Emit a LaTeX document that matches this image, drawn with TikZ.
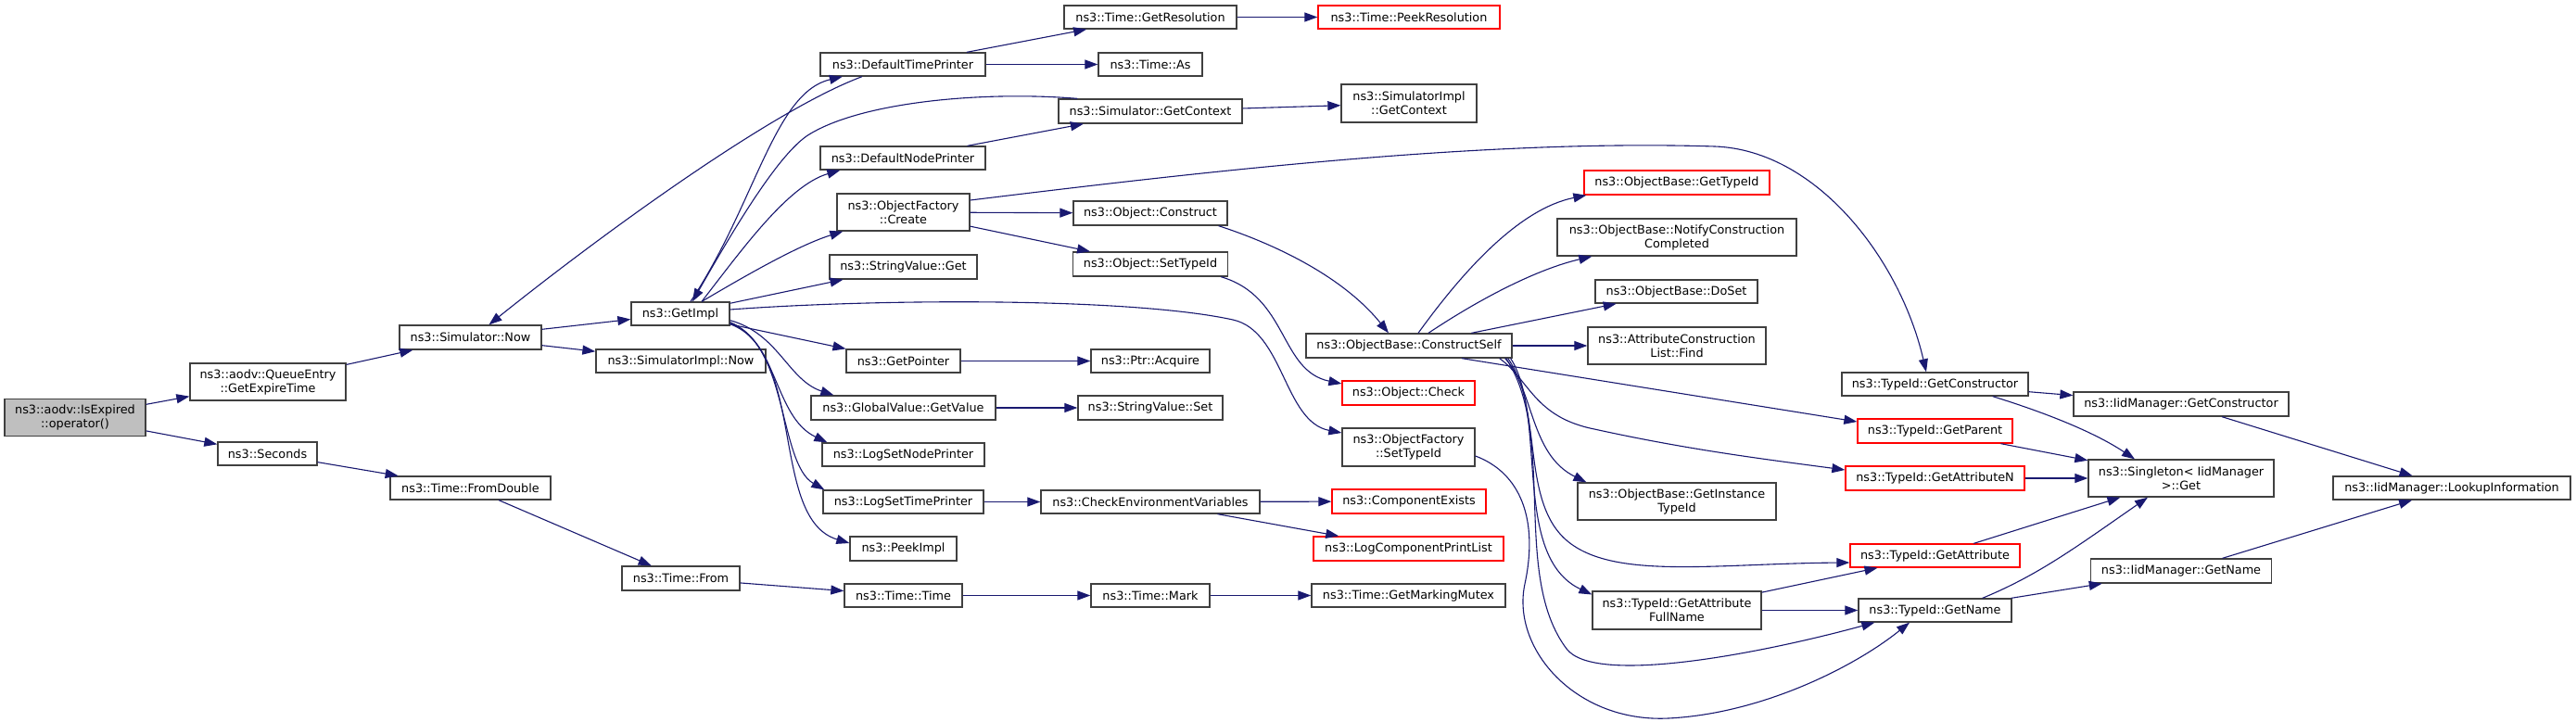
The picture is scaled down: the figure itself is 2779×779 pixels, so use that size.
\documentclass[tikz,border=0pt]{standalone}
\usepackage{fontspec}
\setmainfont{DejaVu Sans}
\usetikzlibrary{arrows.meta}
\definecolor{edgeblue}{HTML}{191970}
\definecolor{boxgray}{HTML}{404040}
\definecolor{boxred}{HTML}{FF0000}
\definecolor{rootfill}{HTML}{BFBFBF}
\begin{document}
\begin{tikzpicture}[x=1pt,y=-1pt,
  fn/.style={draw=boxgray, line width=1.3pt, fill=white, inner sep=0pt, align=center,
             font=\fontsize{12.8}{15}\selectfont},
  fnred/.style={fn, draw=boxred},
  call/.style={draw=edgeblue, line width=1.1pt, -{Triangle[length=14pt,width=10pt]}}]
\useasboundingbox (0,0) rectangle (2779,779);
\fill[white] (0,0) rectangle (2779,779);

% nodes
\node[fn, fill=rootfill, minimum width=152pt, minimum height=40pt] (isexp) at (81,450.5) {ns3::aodv::IsExpired\\::operator()};
\node[fn, minimum width=168pt, minimum height=40pt] (expire) at (289,412) {ns3::aodv::QueueEntry\\::GetExpireTime};
\node[fn, minimum width=107pt, minimum height=25pt] (seconds) at (288.5,489.5) {ns3::Seconds};
\node[fn, minimum width=173pt, minimum height=25pt] (fromdbl) at (507.5,526.5) {ns3::Time::FromDouble};
\node[fn, minimum width=127pt, minimum height=26pt] (tfrom) at (734.5,624) {ns3::Time::From};
\node[fn, minimum width=153pt, minimum height=26pt] (simnow) at (507.5,364) {ns3::Simulator::Now};
\node[fn, minimum width=106pt, minimum height=25pt] (getimpl) at (734,338.5) {ns3::GetImpl};
\node[fn, minimum width=183pt, minimum height=25pt] (simimplnow) at (734.5,389.5) {ns3::SimulatorImpl::Now};
\node[fn, minimum width=178pt, minimum height=25pt] (dtp) at (974,69.5) {ns3::DefaultTimePrinter};
\node[fn, minimum width=186pt, minimum height=25pt] (getres) at (1241,18.5) {ns3::Time::GetResolution};
\node[fn, minimum width=112pt, minimum height=25pt] (tas) at (1241,69.5) {ns3::Time::As};
\node[fn, minimum width=198pt, minimum height=26pt] (simctx) at (1241,120) {ns3::Simulator::GetContext};
\node[fn, minimum width=178pt, minimum height=25pt] (dnp) at (974,170.5) {ns3::DefaultNodePrinter};
\node[fn, minimum width=143pt, minimum height=40pt] (create) at (974.5,229) {ns3::ObjectFactory\\::Create};
\node[fn, minimum width=166pt, minimum height=26pt] (construct) at (1241,230) {ns3::Object::Construct};
\node[fn, minimum width=167pt, minimum height=26pt] (objsettid) at (1241,285) {ns3::Object::SetTypeId};
\node[fn, minimum width=159pt, minimum height=26pt] (strget) at (974.5,288) {ns3::StringValue::Get};
\node[fn, minimum width=123pt, minimum height=25pt] (getptr) at (974.5,389.5) {ns3::GetPointer};
\node[fn, minimum width=128pt, minimum height=25pt] (acquire) at (1241,389.5) {ns3::Ptr::Acquire};
\node[fn, minimum width=199pt, minimum height=26pt] (gvget) at (974.5,440) {ns3::GlobalValue::GetValue};
\node[fn, minimum width=156pt, minimum height=26pt] (strset) at (1241,440) {ns3::StringValue::Set};
\node[fn, minimum width=175pt, minimum height=25pt] (lsnp) at (974.5,490.5) {ns3::LogSetNodePrinter};
\node[fn, minimum width=173pt, minimum height=25pt] (lstp) at (974.5,541.5) {ns3::LogSetTimePrinter};
\node[fn, minimum width=236pt, minimum height=25pt] (checkenv) at (1241,541.5) {ns3::CheckEnvironmentVariables};
\node[fn, minimum width=115pt, minimum height=26pt] (peek) at (974.5,592) {ns3::PeekImpl};
\node[fn, minimum width=127pt, minimum height=25pt] (ttime) at (974.5,642.5) {ns3::Time::Time};
\node[fn, minimum width=128pt, minimum height=25pt] (mark) at (1241,642.5) {ns3::Time::Mark};
\node[fnred, minimum width=196pt, minimum height=25pt] (peekres) at (1520,18.5) {ns3::Time::PeekResolution};
\node[fn, minimum width=146pt, minimum height=41pt] (implctx) at (1520,111.5) {ns3::SimulatorImpl\\::GetContext};
\node[fnred, minimum width=200pt, minimum height=26pt] (gettid) at (1809,197) {ns3::ObjectBase::GetTypeId};
\node[fn, minimum width=258pt, minimum height=40pt] (notify) at (1809,256) {ns3::ObjectBase::NotifyConstruction\\Completed};
\node[fn, minimum width=175pt, minimum height=25pt] (doset) at (1808.5,314.5) {ns3::ObjectBase::DoSet};
\node[fn, minimum width=192pt, minimum height=40pt] (find) at (1809,373) {ns3::AttributeConstruction\\List::Find};
\node[fn, minimum width=222pt, minimum height=26pt] (cself) at (1520,373) {ns3::ObjectBase::ConstructSelf};
\node[fnred, minimum width=143pt, minimum height=26pt] (check) at (1519.5,424) {ns3::Object::Check};
\node[fn, minimum width=143pt, minimum height=41pt] (ofsettid) at (1519.5,482.5) {ns3::ObjectFactory\\::SetTypeId};
\node[fnred, minimum width=166pt, minimum height=26pt] (compex) at (1520,541) {ns3::ComponentExists};
\node[fnred, minimum width=205pt, minimum height=26pt] (lcpl) at (1519.5,592) {ns3::LogComponentPrintList};
\node[fn, minimum width=209pt, minimum height=25pt] (mutex) at (1519.5,642.5) {ns3::Time::GetMarkingMutex};
\node[fn, minimum width=214pt, minimum height=40pt] (insttid) at (1809,541) {ns3::ObjectBase::GetInstance\\TypeId};
\node[fn, minimum width=182pt, minimum height=41pt] (fullname) at (1809,658.5) {ns3::TypeId::GetAttribute\\FullName};
\node[fn, minimum width=201pt, minimum height=25pt] (tgetctor) at (2087.5,414.5) {ns3::TypeId::GetConstructor};
\node[fnred, minimum width=167pt, minimum height=26pt] (tparent) at (2087.5,465) {ns3::TypeId::GetParent};
\node[fnred, minimum width=193pt, minimum height=26pt] (tattrn) at (2087.5,516) {ns3::TypeId::GetAttributeN};
\node[fnred, minimum width=183pt, minimum height=25pt] (tattr) at (2087.5,599.5) {ns3::TypeId::GetAttribute};
\node[fn, minimum width=165pt, minimum height=25pt] (tname) at (2087.5,658.5) {ns3::TypeId::GetName};
\node[fn, minimum width=232pt, minimum height=26pt] (iidctor) at (2353,436) {ns3::IidManager::GetConstructor};
\node[fn, minimum width=200pt, minimum height=40pt] (singleton) at (2353,516) {ns3::Singleton< IidManager\\>::Get};
\node[fn, minimum width=256pt, minimum height=25pt] (lookup) at (2645,526.5) {ns3::IidManager::LookupInformation};
\node[fn, minimum width=195pt, minimum height=26pt] (iidname) at (2353,616) {ns3::IidManager::GetName};

% straight edges
\draw[call] (isexp) -- (expire);
\draw[call] (isexp) -- (seconds);
\draw[call] (expire) -- (simnow);
\draw[call] (seconds) -- (fromdbl);
\draw[call] (fromdbl) -- (tfrom);
\draw[call] (tfrom) -- (ttime);
\draw[call] (ttime) -- (mark);
\draw[call] (mark) -- (mutex);
\draw[call] (simnow) -- (getimpl);
\draw[call] (simnow) -- (simimplnow);
\draw[call] (dtp) -- (getres);
\draw[call] (dtp) -- (tas);
\draw[call] (getres) -- (peekres);
\draw[call] (simctx) -- (implctx);
\draw[call] (dnp) -- (simctx);
\draw[call] (create) -- (construct);
\draw[call] (create) -- (objsettid);
\draw[call] (getimpl) -- (strget);
\draw[call] (getimpl) -- (getptr);
\draw[call] (getptr) -- (acquire);
\draw[call] (gvget) -- (strset);
\draw[call] (lstp) -- (checkenv);
\draw[call] (checkenv) -- (compex);
\draw[call] (checkenv) -- (lcpl);
\draw[call] (cself) -- (doset);
\draw[call] (cself) -- (find);
\draw[call] ([xshift=57pt]cself.south) -- ([yshift=10pt]tparent.west);
\draw[call] (fullname) -- (tattr);
\draw[call] (fullname) -- (tname);
\draw[call] (tgetctor) -- (iidctor);
\draw[call] (tparent) -- (singleton);
\draw[call] (tattrn) -- (singleton);
\draw[call] (tattr) -- (singleton);
\draw[call] (tname) -- (iidname);
\draw[call] (iidctor) -- (lookup);
\draw[call] (iidname) -- (lookup);

% curved edges
\draw[call] ([xshift=-44pt]dtp.south) .. controls (830,120) and (640,260) .. ([xshift=20pt]simnow.north);
\draw[call] ([xshift=11pt]getimpl.north) .. controls (815,220) and (835,100) .. ([xshift=24.5pt]dtp.south west);
\draw[call] ([xshift=21pt]simctx.north west) .. controls (1060,98) and (930,110) .. (873,145)
            .. controls (840,165) and (790,250) .. ([xshift=13pt]getimpl.north);
\draw[call] ([xshift=23pt]getimpl.north) .. controls (800,270) and (850,200) .. ([xshift=22pt]dnp.south west);
\draw[call] ([xshift=23pt]getimpl.north) .. controls (800,300) and (860,265) .. ([xshift=7pt]create.south west);
\draw[call] ([yshift=4.5pt]getimpl.east) .. controls (950,322) and (1220,321) .. (1330,345)
            .. controls (1385,357) and (1385,455) .. ([yshift=15.5pt]ofsettid.west);
\draw[call] ([yshift=6pt]getimpl.south east) .. controls (840,360) and (850,410) .. ([xshift=25pt]gvget.north west);
\draw[call] ([yshift=4pt]getimpl.south east) .. controls (840,370) and (835,450) .. ([xshift=6pt]lsnp.north west);
\draw[call] ([yshift=3pt]getimpl.south east) .. controls (850,370) and (840,500) .. ([xshift=2pt]lstp.north west);
\draw[call] ([yshift=2pt]getimpl.south east) .. controls (870,380) and (830,560) .. ([yshift=6pt]peek.west);
\draw[call] ([yshift=13pt]create.east) .. controls (1300,185) and (1600,150) .. (1850,158)
            .. controls (1960,162) and (2050,280) .. ([xshift=-9.5pt]tgetctor.north);
\draw[call] ([xshift=-10pt]construct.south east) .. controls (1380,265) and (1450,300) .. ([xshift=-22pt]cself.north);
\draw[call] ([xshift=-8pt]objsettid.south east) .. controls (1390,320) and (1380,400) .. ([yshift=10pt]check.west);
\draw[call] ([xshift=10pt]cself.north) .. controls (1580,290) and (1640,225) .. ([xshift=3pt]gettid.south west);
\draw[call] ([xshift=21pt]cself.north) .. controls (1600,320) and (1660,290) .. ([xshift=38pt]notify.south west);
\draw[call] ([xshift=-14pt]cself.south east) .. controls (1650,410) and (1655,450) .. (1720,463)
            .. controls (1820,485) and (1900,495) .. ([yshift=9pt]tattrn.west);
\draw[call] ([xshift=-8pt]cself.south east) .. controls (1655,420) and (1650,490) .. ([xshift=10pt]insttid.north west);
\draw[call] ([xshift=-5pt]cself.south east) .. controls (1665,440) and (1640,540) .. (1690,583)
            .. controls (1740,626) and (1850,608) .. ([yshift=-7.5pt]tattr.west);
\draw[call] ([xshift=-2pt]cself.south east) .. controls (1670,450) and (1630,600) .. ([yshift=17pt]fullname.west);
\draw[call] ([xshift=-7pt]cself.south east) .. controls (1680,470) and (1630,620) .. (1690,700)
            .. controls (1720,740) and (1900,705) .. ([xshift=18pt]tname.south west);
\draw[call] ([yshift=-9.5pt]ofsettid.east) .. controls (1640,510) and (1660,560) .. (1645,630)
            .. controls (1630,700) and (1700,780) .. (1800,775)
            .. controls (1900,770) and (2000,720) .. ([xshift=-27.5pt]tname.south);
\draw[call] ([xshift=-39pt]tgetctor.south east) .. controls (2180,437) and (2250,460) .. ([xshift=-50pt]singleton.north);
\draw[call] ([xshift=-32pt]tname.north east) .. controls (2200,620) and (2240,590) .. ([xshift=-36pt]singleton.south);
\end{tikzpicture}
\end{document}
